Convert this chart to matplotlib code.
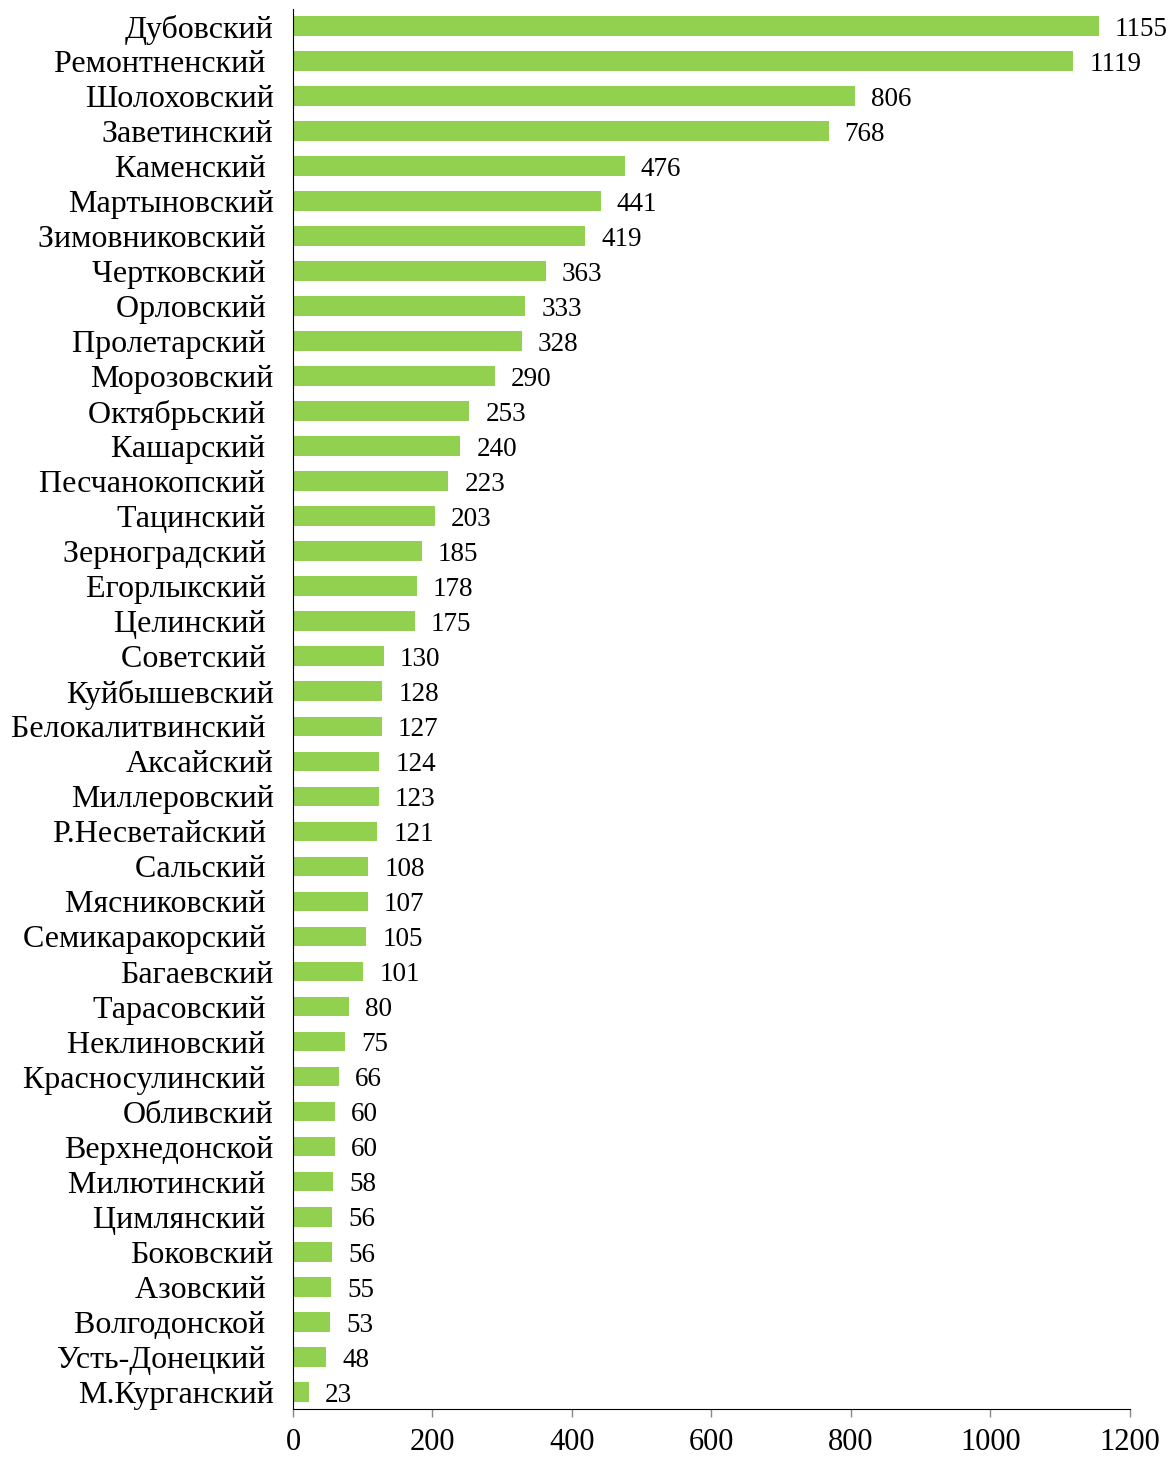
import matplotlib.pyplot as plt

# trailing spaces kept as in the source labels (they shift some names left)
districts = ['Дубовский', 'Ремонтненский ', 'Шолоховский', 'Заветинский', 'Каменский ',
             'Мартыновский', 'Зимовниковский ', 'Чертковский ', 'Орловский ', 'Пролетарский ',
             'Морозовский', 'Октябрьский ', 'Кашарский ', 'Песчанокопский ', 'Тацинский ',
             'Зерноградский ', 'Егорлыкский ', 'Целинский ', 'Советский ', 'Куйбышевский',
             'Белокалитвинский ', 'Аксайский', 'Миллеровский', 'Р.Несветайский ', 'Сальский ',
             'Мясниковский ', 'Семикаракорский ', 'Багаевский', 'Тарасовский ', 'Неклиновский ',
             'Красносулинский ', 'Обливский', 'Верхнедонской', 'Милютинский ', 'Цимлянский ',
             'Боковский', 'Азовский ', 'Волгодонской ', 'Усть-Донецкий ', 'М.Курганский']
values = [1155, 1119, 806, 768, 476, 441, 419, 363, 333, 328,
          290, 253, 240, 223, 203, 185, 178, 175, 130, 128,
          127, 124, 123, 121, 108, 107, 105, 101, 80, 75,
          66, 60, 60, 58, 56, 56, 55, 53, 48, 23]
x_ticks = [0, 200, 400, 600, 800, 1000, 1200]

plt.rcParams['font.family'] = ['Liberation Serif', 'DejaVu Serif']

fig = plt.figure(figsize=(11.69, 14.6), dpi=100)
ax = fig.add_axes([0.2506, 0.0349, 0.716, 0.959])

pos = list(range(len(districts)))
ax.barh(pos, values, height=0.57, color='#92D050')
for p, v in zip(pos, values):
    ax.annotate(str(v), (v, p), xytext=(11.5, -2.5), textcoords='offset points',
                va='center', ha='left', fontsize=19.5)

ax.set_ylim(len(districts) - 0.5, -0.5)
ax.set_xlim(0, 1200)
ax.set_yticks(pos)
ax.set_yticklabels(districts, fontsize=23)
ax.set_xticks(x_ticks)
ax.set_xticklabels([str(t) for t in x_ticks], fontsize=22)
ax.tick_params(axis='y', length=0, pad=14)
ax.tick_params(axis='x', length=6, direction='out', width=1, color='#888888', pad=7.5)
ax.spines['top'].set_visible(False)
ax.spines['right'].set_visible(False)

plt.savefig('out.png', dpi=100)
